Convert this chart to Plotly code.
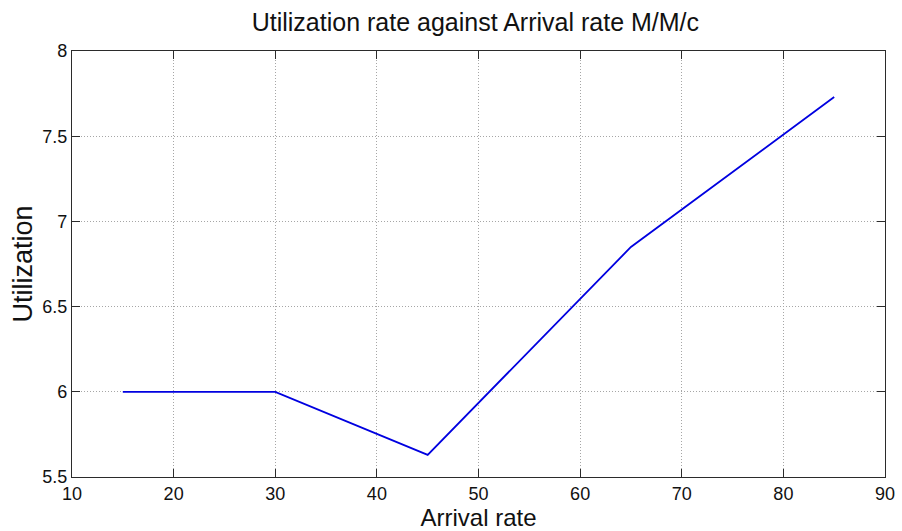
import plotly.graph_objects as go

# Arrival rate vs utilization for the M/M/c queue
arrival_rate = [15, 30, 45, 65, 85]
utilization = [6.0, 6.0, 5.63, 6.85, 7.73]

x_ticks = [10, 20, 30, 40, 50, 60, 70, 80, 90]
y_ticks = [5.5, 6, 6.5, 7, 7.5, 8]
y_tick_text = ["5.5", "6", "6.5", "7", "7.5", "8"]

FONT = "Liberation Sans, Arial, Helvetica, sans-serif"
AXIS_COLOR = "#2b2b2b"
GRID_COLOR = "#a6a6a6"

fig = go.Figure()
fig.add_trace(go.Scatter(
    x=arrival_rate,
    y=utilization,
    mode="lines",
    line=dict(color="#0000e0", width=1.8),
    showlegend=False,
))

axis_common = dict(
    showline=True,
    linecolor=AXIS_COLOR,
    linewidth=1.2,
    mirror="ticks",
    ticks="inside",
    ticklen=8,
    tickwidth=1.2,
    tickcolor=AXIS_COLOR,
    showgrid=True,
    gridcolor=GRID_COLOR,
    gridwidth=1,
    griddash="1px,2px",
    zeroline=False,
    automargin=False,
    tickfont=dict(family=FONT, size=18, color="#111111"),
)

fig.update_xaxes(
    range=[10, 90],
    tickvals=x_ticks,
    title=dict(text="Arrival rate", font=dict(family=FONT, size=24, color="#111111"), standoff=3),
    **axis_common,
)
fig.update_yaxes(
    range=[5.5, 8],
    tickvals=y_ticks,
    ticktext=y_tick_text,
    title=dict(text="Utilization", font=dict(family=FONT, size=27, color="#111111"), standoff=1),
    **axis_common,
)

fig.update_layout(
    width=902,
    height=531,
    margin=dict(l=72, r=17, t=51, b=54),
    paper_bgcolor="white",
    plot_bgcolor="white",
    title=dict(
        text="Utilization rate against Arrival rate M/M/c",
        font=dict(family=FONT, size=25, color="#111111"),
        x=0.527,
        xanchor="center",
        y=0.958,
        yanchor="middle",
    ),
)

fig.write_html("out.html")
